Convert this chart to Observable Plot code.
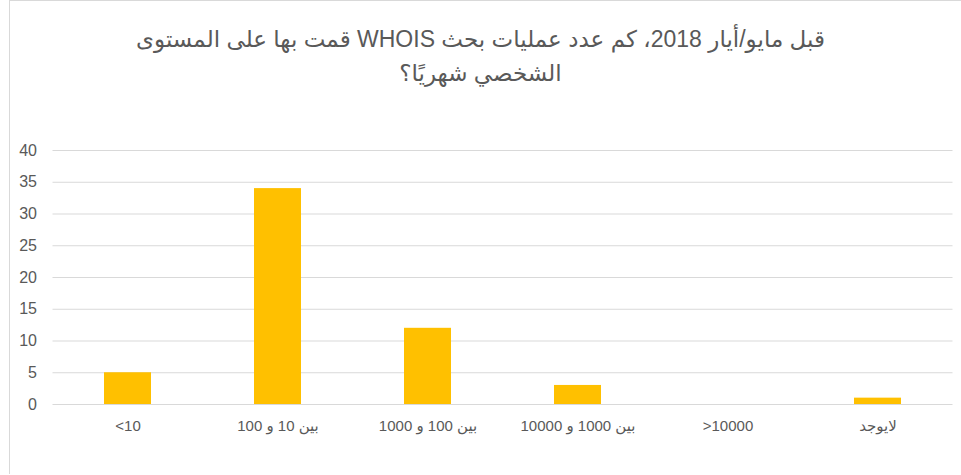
<!DOCTYPE html>
<html>
<head>
<meta charset="utf-8">
<script src="https://cdn.jsdelivr.net/npm/d3@7"></script>
<script src="https://cdn.jsdelivr.net/npm/@observablehq/plot@0.6"></script>
<style>
  html, body { margin: 0; padding: 0; background: #fff; }
  #frame { position: absolute; left: 9px; top: 0px; width: 980px; height: 473px; border-left: 1px solid #d9d9d9; border-top: 1px solid #d9d9d9; }
  #title { position: absolute; left: 0; top: 22px; width: 961px; text-align: center; direction: rtl;
           font-family: "Liberation Sans", "DejaVu Sans", sans-serif; font-size: 23px; line-height: 34px; color: #595959; }
  #chart { position: absolute; left: 0; top: 100px; }
</style>
</head>
<body>
<div id="frame"></div>
<div id="title">قبل مايو/أيار 2018، كم عدد عمليات بحث WHOIS قمت بها على المستوى<br>الشخصي شهريًا؟</div>
<div id="chart"></div>
<script>
const categories = ["<10", "بين 10 و 100", "بين 100 و 1000", "بين 1000 و 10000", ">10000", "لايوجد"];
const values = [5, 34, 12, 3, 0, 1];
const yTicks = [0, 5, 10, 15, 20, 25, 30, 35, 40];

const data = categories.map((c, i) => ({category: c, value: values[i]}));
const isArabic = s => /[\u0600-\u06FF]/.test(s);

const plot = Plot.plot({
  width: 961,
  height: 375,
  marginTop: 50,
  marginBottom: 71,
  marginLeft: 52.5,
  marginRight: 8.5,
  style: {fontFamily: "Liberation Sans, DejaVu Sans, sans-serif", fontSize: "16px", color: "#595959", background: "transparent"},
  x: {domain: categories, paddingInner: 0.687, paddingOuter: 0.3435, label: null},
  y: {domain: [0, 40], label: null},
  marks: [
    Plot.ruleY(yTicks, {stroke: "#d9d9d9", strokeWidth: 1}),
    Plot.barY(data, {x: "category", y: "value", fill: "#ffc000"}),
    Plot.axisY({ticks: yTicks, tickSize: 0, tickPadding: 16, fontSize: 16, fill: "#595959", label: null}),
    Plot.axisX({tickSize: 0, tickPadding: 16, fontSize: 15, fill: "#595959", label: null,
                tickFormat: d => isArabic(d) ? d : "\u200E" + d})
  ]
});
plot.querySelectorAll("text").forEach(t => {
  if (isArabic(t.textContent)) {
    t.style.direction = "rtl";
  } else {
    t.style.direction = "ltr";
  }
});
document.getElementById("chart").appendChild(plot);
</script>
</body>
</html>
